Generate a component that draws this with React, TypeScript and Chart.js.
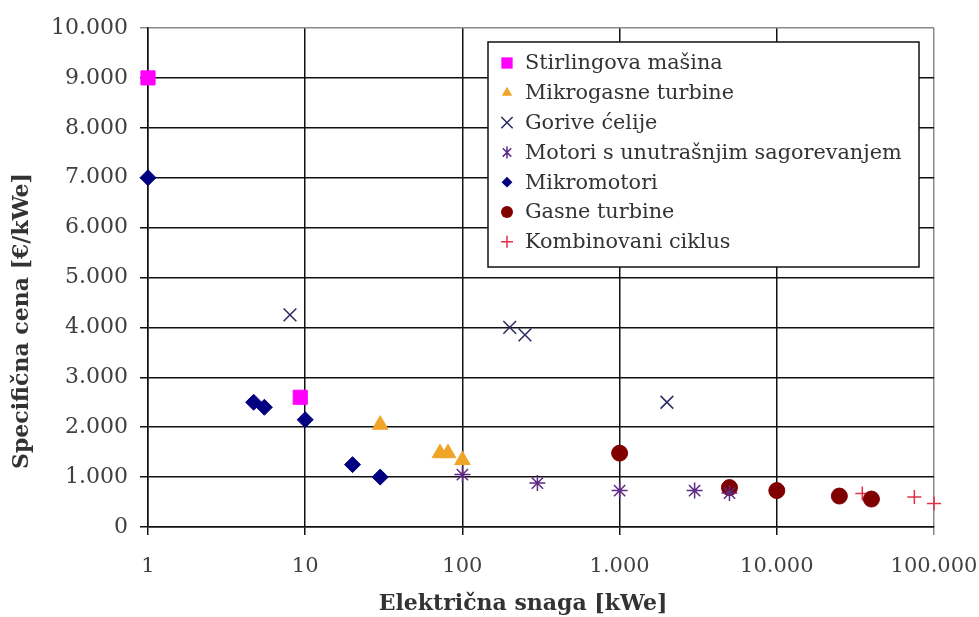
import { useEffect, useRef } from 'react';
import { Chart, registerables } from 'chart.js';
Chart.register(...registerables);

const xTicks = [1, 10, 100, 1000, 10000, 100000];
const xTickLabels = ['1', '10', '100', '1.000', '10.000', '100.000'];
const yTicks = [0, 1000, 2000, 3000, 4000, 5000, 6000, 7000, 8000, 9000, 10000];
const yTickLabels = ['0', '1.000', '2.000', '3.000', '4.000', '5.000', '6.000', '7.000', '8.000', '9.000', '10.000'];

const xTitle = 'Električna snaga [kWe]';
const yTitle = 'Specifična cena [€/kWe]';

const seriesNames = [
  'Stirlingova mašina',
  'Mikrogasne turbine',
  'Gorive ćelije',
  'Motori s unutrašnjim sagorevanjem',
  'Mikromotori',
  'Gasne turbine',
  'Kombinovani ciklus',
];

const stirlingX = [1, 9.3];
const stirlingY = [9000, 2600];
const mikroGasX = [30, 72, 81, 100];
const mikroGasY = [2050, 1480, 1480, 1340];
const goriveX = [8, 200, 250, 2000];
const goriveY = [4250, 4000, 3850, 2500];
const motoriX = [100, 300, 1000, 3000, 5000];
const motoriY = [1050, 880, 730, 730, 680];
const mikromotoriX = [1, 4.7, 5.5, 10, 20, 30];
const mikromotoriY = [7000, 2500, 2400, 2150, 1250, 1000];
const gasneX = [1000, 5000, 10000, 25000, 40000];
const gasneY = [1480, 790, 730, 620, 560];
const kombX = [35000, 75000, 100000];
const kombY = [670, 600, 470];

const seriesX = [stirlingX, mikroGasX, goriveX, motoriX, mikromotoriX, gasneX, kombX];
const seriesY = [stirlingY, mikroGasY, goriveY, motoriY, mikromotoriY, gasneY, kombY];
const styles = ['rect', 'triangle', 'crossRot', 'star', 'rectRot', 'circle', 'cross'];
const colors = ['#FF00FF', '#F0A528', '#2A2A5E', '#5E2A86', '#000080', '#800000', '#E0304A'];
const radii = [10, 9, 9, 8, 8, 8, 7];

const FONT = '"DejaVu Serif", serif';

function drawMarker(ctx: CanvasRenderingContext2D, style: string, x: number, y: number, r: number, color: string) {
  ctx.save();
  ctx.fillStyle = color;
  ctx.strokeStyle = color;
  ctx.lineWidth = 1.5;
  ctx.beginPath();
  if (style === 'rect') {
    const s = r * Math.SQRT1_2;
    ctx.rect(x - s, y - s, 2 * s, 2 * s);
    ctx.fill();
  } else if (style === 'rectRot') {
    ctx.moveTo(x, y - r * 0.9);
    ctx.lineTo(x + r * 0.9, y);
    ctx.lineTo(x, y + r * 0.9);
    ctx.lineTo(x - r * 0.9, y);
    ctx.closePath();
    ctx.fill();
  } else if (style === 'triangle') {
    ctx.moveTo(x, y - r);
    ctx.lineTo(x + r * 0.866, y + r * 0.5);
    ctx.lineTo(x - r * 0.866, y + r * 0.5);
    ctx.closePath();
    ctx.fill();
  } else if (style === 'circle') {
    ctx.arc(x, y, r, 0, Math.PI * 2);
    ctx.fill();
  } else if (style === 'cross') {
    ctx.moveTo(x - r, y); ctx.lineTo(x + r, y);
    ctx.moveTo(x, y - r); ctx.lineTo(x, y + r);
    ctx.stroke();
  } else if (style === 'crossRot') {
    const s = r * Math.SQRT1_2;
    ctx.moveTo(x - s, y - s); ctx.lineTo(x + s, y + s);
    ctx.moveTo(x + s, y - s); ctx.lineTo(x - s, y + s);
    ctx.stroke();
  } else if (style === 'star') {
    const s = r * Math.SQRT1_2;
    ctx.moveTo(x - s, y - s); ctx.lineTo(x + s, y + s);
    ctx.moveTo(x + s, y - s); ctx.lineTo(x - s, y + s);
    ctx.moveTo(x, y - r); ctx.lineTo(x, y + r);
    ctx.stroke();
  }
  ctx.restore();
}

const decorPlugin = {
  id: 'decor',
  afterDraw(chart: any) {
    const ctx: CanvasRenderingContext2D = chart.ctx;
    ctx.save();
    // legend box
    const bx = 488, by = 42, bw = 431, bh = 225;
    ctx.fillStyle = '#ffffff';
    ctx.fillRect(bx, by, bw, bh);
    ctx.strokeStyle = '#111';
    ctx.lineWidth = 1.5;
    ctx.strokeRect(bx, by, bw, bh);
    ctx.font = `20.8px ${FONT}`;
    ctx.textBaseline = 'middle';
    ctx.textAlign = 'left';
    for (let i = 0; i < seriesNames.length; i++) {
      const cy = 63 + i * 29.8;
      const legendR = styles[i] === 'rect' ? 8 : (styles[i] === 'crossRot' ? 8 : 6);
      drawMarker(ctx, styles[i], 507, cy, legendR, colors[i]);
      ctx.fillStyle = '#333';
      ctx.fillText(seriesNames[i], 525, cy + 1);
    }
    // axis titles
    ctx.fillStyle = '#333';
    ctx.font = `bold 22px ${FONT}`;
    ctx.textAlign = 'center';
    ctx.textBaseline = 'middle';
    ctx.fillText(xTitle, 523, 604);
    ctx.translate(22, 321);
    ctx.rotate(-Math.PI / 2);
    ctx.fillText(yTitle, 0, 0);
    ctx.restore();
  },
};

export default function App() {
  const ref = useRef<HTMLCanvasElement | null>(null);
  useEffect(() => {
    if (!ref.current) return;
    const datasets = seriesNames.map((name, i) => ({
      label: name,
      data: seriesX[i].map((x, j) => ({ x, y: seriesY[i][j] })),
      pointStyle: styles[i] as any,
      pointRadius: radii[i],
      pointHoverRadius: radii[i],
      pointBackgroundColor: colors[i],
      pointBorderColor: colors[i],
      pointBorderWidth: styles[i] === 'cross' || styles[i] === 'crossRot' || styles[i] === 'star' ? 1.5 : 1,
      backgroundColor: colors[i],
      borderColor: colors[i],
      showLine: false,
      clip: false as any,
    }));
    const chart = new Chart(ref.current, {
      type: 'scatter',
      data: { datasets },
      options: {
        animation: false,
        responsive: true,
        maintainAspectRatio: false,
        layout: { padding: { top: 28, right: 45, left: 0, bottom: 0 } },
        plugins: { legend: { display: false }, tooltip: { enabled: false } },
        scales: {
          x: {
            type: 'logarithmic',
            min: 1,
            max: 100000,
            afterBuildTicks: (s: any) => { s.ticks = xTicks.map((v) => ({ value: v })); },
            afterFit: (s: any) => { s.height = 90; s.paddingRight = 0; s.paddingLeft = 0; },
            ticks: {
              autoSkip: false,
              maxRotation: 0,
              padding: 19,
              color: '#404040',
              font: { family: FONT, size: 21 },
              callback: (v: any) => xTickLabels[xTicks.indexOf(Number(v))] ?? '',
            },
            grid: {
              color: (c: any) => (c.tick && c.tick.value === 100000 ? '#8a8a8a' : '#111'),
              lineWidth: 1.5,
              tickLength: 8,
            },
            border: { color: '#111', width: 1.5 },
          },
          y: {
            type: 'linear',
            min: 0,
            max: 10000,
            afterBuildTicks: (s: any) => { s.ticks = yTicks.map((v) => ({ value: v })); },
            afterFit: (s: any) => { s.width = 148; s.paddingTop = 0; s.paddingBottom = 0; },
            ticks: {
              padding: 12,
              color: '#404040',
              font: { family: FONT, size: 22 },
              callback: (v: any) => yTickLabels[yTicks.indexOf(Number(v))] ?? '',
            },
            grid: {
              color: (c: any) => (c.tick && c.tick.value === 10000 ? '#8a8a8a' : '#111'),
              lineWidth: 1.5,
              tickLength: 8,
            },
            border: { color: '#111', width: 1.5 },
          },
        },
      },
      plugins: [decorPlugin],
    });
    return () => chart.destroy();
  }, []);
  return (
    <div style={{ position: 'absolute', left: 0, top: 0, width: 979, height: 617, background: '#fff' }}>
      <canvas ref={ref} />
    </div>
  );
}
